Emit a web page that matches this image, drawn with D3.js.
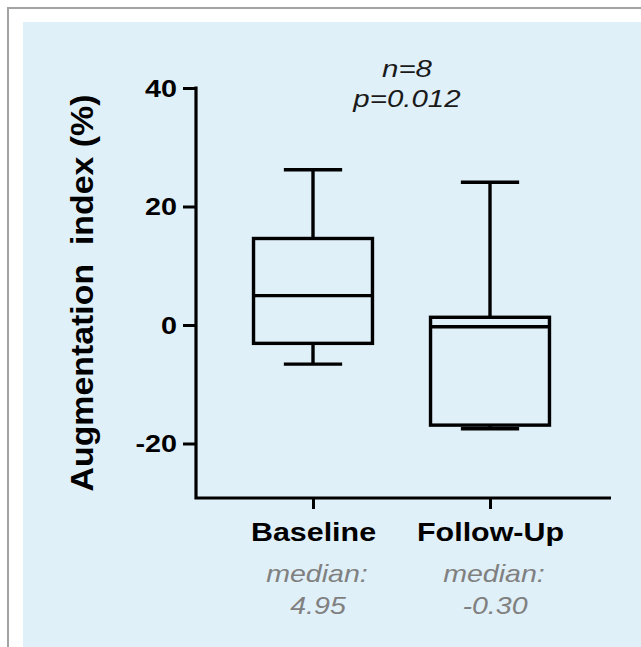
<!DOCTYPE html>
<html>
<head>
<meta charset="utf-8">
<script src="https://cdn.jsdelivr.net/npm/d3@7"></script>
<style>
  html, body { margin: 0; padding: 0; background: #ffffff; }
  svg { display: block; font-family: "Liberation Sans", Arial, Helvetica, sans-serif; }
</style>
</head>
<body>
<svg id="chart" width="641" height="647"></svg>
<script>
// ---- data ----
const categories = ["Baseline", "Follow-Up"];
const whiskerMax = [26.2, 24.1];
const q3 = [14.6, 1.3];
const medians = [4.95, -0.30];
const q1 = [-3.1, -16.9];
const whiskerMin = [-6.6, -17.5];
const medianLabels = ["4.95", "-0.30"];
const yTicks = [40, 20, 0, -20];
const annotation = ["n=8", "p=0.012"];
const yTitle = "Augmentation  index (%)";

const svg = d3.select("#chart");

// frame & panel
svg.append("rect").attr("x", 8).attr("y", 8).attr("width", 700).attr("height", 700)
  .attr("fill", "#ffffff").attr("stroke", "#a3a3a3").attr("stroke-width", 2);
svg.append("rect").attr("x", 23).attr("y", 22).attr("width", 640).attr("height", 640)
  .attr("fill", "#e0f0f9");

// scales
const y = d3.scaleLinear().domain([-29.2, 40]).range([498, 88]);
const x = d3.scalePoint().domain(categories).range([313, 490]).padding(0);
const step = x.step();
const boxW = step * 0.672;
const capW = boxW * 0.49;

// stretch helper
function stretch(sel, k) {
  sel.each(function () {
    const L = this.getComputedTextLength();
    d3.select(this).attr("textLength", L * k).attr("lengthAdjust", "spacingAndGlyphs");
  });
}

// y axis
const yAxis = svg.append("g").attr("transform", "translate(196,0)")
  .call(d3.axisLeft(y).tickValues(yTicks).tickSize(13).tickPadding(6).tickFormat(d => String(d)));
yAxis.attr("font-size", null).attr("font-family", null);
yAxis.select(".domain").remove();
yAxis.selectAll(".tick line").attr("stroke", "#000").attr("stroke-width", 3);
yAxis.selectAll(".tick text").attr("fill", "#000").style("font-size", "23px").attr("font-weight", "bold")
  .attr("dy", "0.36em");
stretch(yAxis.selectAll(".tick text"), 1.25);

// x axis
const xAxis = svg.append("g").attr("transform", "translate(0,498)")
  .call(d3.axisBottom(x).tickSize(11).tickPadding(14));
xAxis.attr("font-size", null).attr("font-family", null);
xAxis.select(".domain").remove();
xAxis.selectAll(".tick line").attr("stroke", "#000").attr("stroke-width", 3);
xAxis.selectAll(".tick text").attr("fill", "#000").style("font-size", "26px").attr("font-weight", "bold");
stretch(xAxis.selectAll(".tick text"), 1.17);

// axis lines (L-shape)
svg.append("path")
  .attr("d", d3.line()([[196, y(40) - 1.5], [196, y.range()[0]], [611, y.range()[0]]]))
  .attr("fill", "none").attr("stroke", "#000").attr("stroke-width", 3.2);

// boxes
const g = svg.append("g").attr("stroke", "#000").attr("stroke-width", 3.4).attr("fill", "none");
categories.forEach((c, i) => {
  const cx = x(c);
  g.append("line").attr("x1", cx).attr("x2", cx).attr("y1", y(whiskerMax[i])).attr("y2", y(q3[i]));
  g.append("line").attr("x1", cx - capW / 2).attr("x2", cx + capW / 2).attr("y1", y(whiskerMax[i])).attr("y2", y(whiskerMax[i]));
  g.append("line").attr("x1", cx).attr("x2", cx).attr("y1", y(q1[i])).attr("y2", y(whiskerMin[i]));
  g.append("line").attr("x1", cx - capW / 2).attr("x2", cx + capW / 2).attr("y1", y(whiskerMin[i])).attr("y2", y(whiskerMin[i]));
  g.append("rect").attr("x", cx - boxW / 2).attr("y", y(q3[i])).attr("width", boxW).attr("height", y(q1[i]) - y(q3[i]));
  g.append("line").attr("x1", cx - boxW / 2).attr("x2", cx + boxW / 2).attr("y1", y(medians[i])).attr("y2", y(medians[i]));
});

// y title
svg.append("text")
  .attr("transform", "translate(93,293) rotate(-90)")
  .attr("text-anchor", "middle")
  .attr("font-size", 32).attr("font-weight", "bold").attr("fill", "#000")
  .style("white-space", "pre")
  .text(yTitle)
  .attr("textLength", 397).attr("lengthAdjust", "spacingAndGlyphs");

// annotation
const ann = svg.append("g").attr("font-style", "italic").attr("font-size", 23).attr("fill", "#1a1a1a")
  .attr("text-anchor", "middle");
ann.selectAll("text").data(annotation).join("text")
  .attr("x", 407).attr("y", (d, i) => 77 + i * 30).text(d => d);
stretch(ann.selectAll("text"), 1.28);

// median labels
const ml = svg.append("g").attr("font-style", "italic").attr("font-size", 24).attr("fill", "#808080")
  .attr("text-anchor", "middle");
categories.forEach((c, i) => {
  ml.append("text").attr("x", x(c) + 4).attr("y", 582).text("median:");
  ml.append("text").attr("x", x(c) + 5).attr("y", 614).text(medianLabels[i]);
});
stretch(ml.selectAll("text"), 1.19);
</script>
</body>
</html>
